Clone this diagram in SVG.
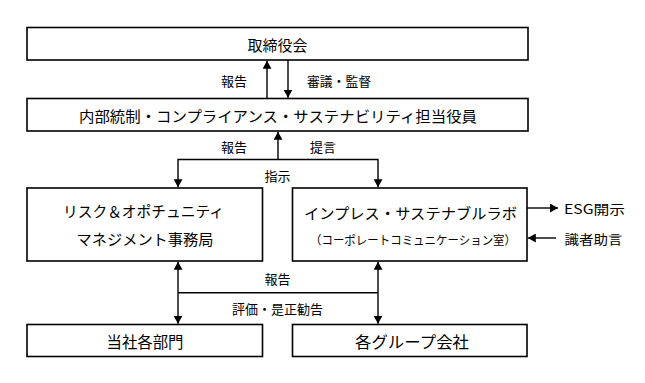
<svg xmlns="http://www.w3.org/2000/svg" width="645" height="383" viewBox="0 0 645 383">
<style>
.box{fill:#fff;stroke:#000;stroke-width:1.6}
.t{font-family:"Noto Sans CJK JP","Noto Sans",sans-serif;fill:#000;text-anchor:middle;dominant-baseline:central}
.lbl{font-size:13px}
.ln{fill:none;stroke:#000;stroke-width:1.4}
</style>
<defs>
<marker id="ah" markerUnits="userSpaceOnUse" markerWidth="8" markerHeight="9" viewBox="0 0 8 9" refX="8" refY="4.5" orient="auto-start-reverse">
<path d="M0,0 L8,4.5 L0,9 z" fill="#000"/>
</marker>
</defs>
<rect width="645" height="383" fill="#fff"/>
<g id="board">
<rect class="box" x="27" y="27.5" width="501" height="32.5"/>
<text class="t" x="277.5" y="44" font-size="15">取締役会</text>
</g>
<g id="officer">
<rect class="box" x="27" y="98.5" width="501" height="32.5"/>
<text class="t" x="278" y="115" font-size="15" textLength="398" lengthAdjust="spacingAndGlyphs">内部統制・コンプライアンス・サステナビリティ担当役員</text>
</g>
<g id="risk">
<rect class="box" x="27" y="188" width="235.5" height="73"/>
<text class="t" x="143.5" y="210.5" font-size="15" textLength="161" lengthAdjust="spacingAndGlyphs">リスク＆オポチュニティ</text>
<text class="t" x="145" y="238.5" font-size="15" textLength="137" lengthAdjust="spacingAndGlyphs">マネジメント事務局</text>
</g>
<g id="lab">
<rect class="box" x="292.5" y="188" width="234.5" height="73"/>
<text class="t" x="410.5" y="212.5" font-size="15" textLength="213" lengthAdjust="spacingAndGlyphs">インプレス・サステナブルラボ</text>
<text class="t" x="413" y="239" font-size="12" textLength="206" lengthAdjust="spacingAndGlyphs">（コーポレートコミュニケーション室）</text>
</g>
<g id="depts">
<rect class="box" x="27" y="324.5" width="235.5" height="32"/>
<text class="t" x="145" y="340.5" font-size="15.5" textLength="77" lengthAdjust="spacingAndGlyphs">当社各部門</text>
</g>
<g id="group">
<rect class="box" x="292.5" y="324.5" width="234.5" height="32"/>
<text class="t" x="412" y="340.5" font-size="16" textLength="114" lengthAdjust="spacingAndGlyphs">各グループ会社</text>
</g>
<g id="connectors">
<line class="ln" x1="267" y1="98.5" x2="267" y2="60.8" marker-end="url(#ah)"/>
<line class="ln" x1="288" y1="60" x2="288" y2="97.7" marker-end="url(#ah)"/>
<line class="ln" x1="278" y1="159.5" x2="278" y2="131.8" marker-end="url(#ah)"/>
<polyline class="ln" points="178,187.2 178,159.5 378,159.5 378,187.2" marker-start="url(#ah)" marker-end="url(#ah)"/>
<line class="ln" x1="178" y1="261.8" x2="178" y2="323.7" marker-start="url(#ah)" marker-end="url(#ah)"/>
<line class="ln" x1="378" y1="261.8" x2="378" y2="323.7" marker-start="url(#ah)" marker-end="url(#ah)"/>
<line class="ln" x1="178" y1="292.7" x2="378" y2="292.7"/>
<line class="ln" x1="527" y1="208" x2="558" y2="208" marker-end="url(#ah)"/>
<line class="ln" x1="556" y1="238" x2="527.8" y2="238" marker-end="url(#ah)"/>
</g>
<g id="labels">
<text class="t lbl" x="234" y="80">報告</text>
<text class="t lbl" x="339" y="80" textLength="64" lengthAdjust="spacingAndGlyphs">審議・監督</text>
<text class="t lbl" x="234" y="146">報告</text>
<text class="t lbl" x="323" y="146">提言</text>
<text class="t lbl" x="277.5" y="175.5">指示</text>
<text class="t lbl" x="277.5" y="278.3">報告</text>
<text class="t lbl" x="277.5" y="308.3" textLength="91" lengthAdjust="spacingAndGlyphs">評価・是正勧告</text>
<text class="t lbl" x="594.5" y="208" textLength="61" lengthAdjust="spacingAndGlyphs">ESG開示</text>
<text class="t lbl" x="593.5" y="238" textLength="58" lengthAdjust="spacingAndGlyphs">識者助言</text>
</g>
</svg>
